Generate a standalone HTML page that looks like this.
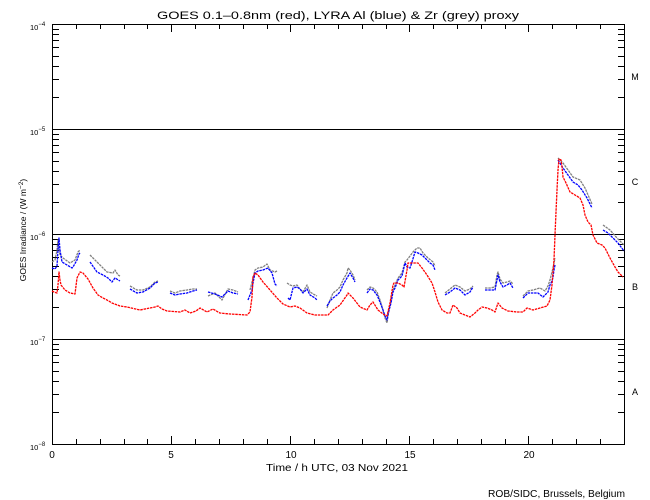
<!DOCTYPE html>
<html><head><meta charset="utf-8"><style>
html,body{margin:0;padding:0;background:#fff;}
svg{display:block;font-family:"Liberation Sans",sans-serif;}
</style></head><body>
<svg width="650" height="500" viewBox="0 0 650 500" xmlns="http://www.w3.org/2000/svg">
<rect width="650" height="500" fill="#fff"/>
<text x="157" y="19" font-size="11" textLength="362" lengthAdjust="spacingAndGlyphs">GOES 0.1–0.8nm (red), LYRA Al (blue) &amp; Zr (grey) proxy</text>

<g stroke="#000" stroke-width="1" fill="none" shape-rendering="crispEdges">
<rect x="52.5" y="24.5" width="572" height="420"/>
<path d="M52 129.5H624M52 234.5H624M52 339.5H624"/>
<path d="M52.5 444V436M76.5 444V439M100.5 444V439M124.5 444V439M147.5 444V439M171.5 444V436M195.5 444V439M219.5 444V439M243.5 444V439M267.5 444V439M290.5 444V436M314.5 444V439M338.5 444V439M362.5 444V439M386.5 444V439M409.5 444V436M433.5 444V439M457.5 444V439M481.5 444V439M505.5 444V439M528.5 444V436M552.5 444V439M576.5 444V439M600.5 444V439"/>
<path d="M52.5 24V32M76.5 24V29M100.5 24V29M124.5 24V29M147.5 24V29M171.5 24V32M195.5 24V29M219.5 24V29M243.5 24V29M267.5 24V29M290.5 24V32M314.5 24V29M338.5 24V29M362.5 24V29M386.5 24V29M409.5 24V32M433.5 24V29M457.5 24V29M481.5 24V29M505.5 24V29M528.5 24V32M552.5 24V29M576.5 24V29M600.5 24V29"/>
<path d="M52 412.5H59M52 394.5H59M52 381.5H59M52 371.5H59M52 362.5H59M52 355.5H59M52 349.5H59M52 344.5H59M52 307.5H59M52 289.5H59M52 276.5H59M52 266.5H59M52 257.5H59M52 250.5H59M52 244.5H59M52 239.5H59M52 202.5H59M52 184.5H59M52 171.5H59M52 161.5H59M52 152.5H59M52 145.5H59M52 139.5H59M52 134.5H59M52 97.5H59M52 79.5H59M52 66.5H59M52 56.5H59M52 47.5H59M52 40.5H59M52 34.5H59M52 29.5H59"/>
<path d="M624 412.5H618M624 394.5H618M624 381.5H618M624 371.5H618M624 362.5H618M624 355.5H618M624 349.5H618M624 344.5H618M624 307.5H618M624 289.5H618M624 276.5H618M624 266.5H618M624 257.5H618M624 250.5H618M624 244.5H618M624 239.5H618M624 202.5H618M624 184.5H618M624 171.5H618M624 161.5H618M624 152.5H618M624 145.5H618M624 139.5H618M624 134.5H618M624 97.5H618M624 79.5H618M624 66.5H618M624 56.5H618M624 47.5H618M624 40.5H618M624 34.5H618M624 29.5H618"/>
</g>

<g font-size="7.5">
<text x="30" y="30">10<tspan font-size="6" dy="-4">−4</tspan></text>
<text x="30" y="135">10<tspan font-size="6" dy="-4">−5</tspan></text>
<text x="30" y="240">10<tspan font-size="6" dy="-4">−6</tspan></text>
<text x="30" y="345">10<tspan font-size="6" dy="-4">−7</tspan></text>
<text x="30" y="450">10<tspan font-size="6" dy="-4">−8</tspan></text>
</g>

<text transform="translate(26,230) rotate(-90)" font-size="8.5" text-anchor="middle">GOES Irradiance / (W m<tspan font-size="6.5" dy="-3">−2</tspan><tspan dy="3">)</tspan></text>

<g font-size="9" text-anchor="middle">
<text x="635" y="80">M</text>
<text x="635" y="185">C</text>
<text x="635" y="290">B</text>
<text x="635" y="395">A</text>
</g>

<g font-size="10" text-anchor="middle">
<text x="52" y="458">0</text>
<text x="171" y="458">5</text>
<text x="291" y="458">10</text>
<text x="410" y="458">15</text>
<text x="529" y="458">20</text>
</g>
<text x="266" y="471" font-size="10" textLength="142" lengthAdjust="spacingAndGlyphs">Time / h UTC, 03 Nov 2021</text>
<text x="488" y="497" font-size="10" textLength="137" lengthAdjust="spacingAndGlyphs">ROB/SIDC, Brussels, Belgium</text>

<g fill="none" stroke="#808080" stroke-width="1.3" stroke-linejoin="round" stroke-dasharray="2.5 0.8">
<polyline points="52,262 55,260 57,250 58,240 60,255 63,258 70,263 75,260 78,252 80,250"/>
<polyline points="90,255 93,258 100,265 107,272 113,273 115,270 118,275 120,276"/>
<polyline points="130,286 137,290 143,290 150,287 155,282 158,281"/>
<polyline points="170,291 175,293 180,291 187,290 193,289 197,289"/>
<polyline points="208,296 215,293 222,300 228,289 233,290 238,292"/>
<polyline points="250,290 253,278 255,270 258,268 263,267 267,264 270,270 275,272 277,271"/>
<polyline points="287,283 290,285 293,286 297,285 300,289 303,292 307,285 310,292 315,295 317,296"/>
<polyline points="327,308 330,300 333,293 337,290 340,287 343,280 347,273 348,268 350,270 353,275 355,280"/>
<polyline points="367,290 370,287 373,288 377,292 380,300 383,310 385,318 387,323 388,316 391,300 393,290 398,278 402,273 405,262 407,260 413,252 417,248 420,248 423,253 428,258 433,262 435,266"/>
<polyline points="445,293 450,289 455,285 460,287 465,291 470,289 473,286"/>
<polyline points="485,288 490,288 495,287 497,275 498,272 500,279 503,283 507,282 510,281 513,284"/>
<polyline points="523,296 528,291 533,290 540,288 545,291 548,286 550,280 553,268 555,258"/>
<polyline points="558,158 563,163 568,170 573,177 580,180 585,188 592,204"/>
<polyline points="603,225 610,230 617,238 624,245"/>
</g>

<g fill="none" stroke="#0000ff" stroke-width="1.3" stroke-linejoin="round" stroke-dasharray="2.5 0.8">
<polyline points="52,268 55,269 57,266 58,250 59,238 60,250 62,262 67,265 72,268 73,267 77,260 79,254 80,253"/>
<polyline points="90,262 97,272 103,275 108,278 112,282 115,278 120,281"/>
<polyline points="130,289 137,293 143,292 150,288 155,283 158,282"/>
<polyline points="170,293 175,295 180,294 187,293 193,291 197,290"/>
<polyline points="208,292 215,294 222,297 228,291 233,293 238,294"/>
<polyline points="248,300 252,290 253,283 255,273 258,271 263,270 268,268 272,273 275,284 277,286"/>
<polyline points="288,298 290,300 293,288 297,287 300,289 303,293 307,289 310,295 315,298 317,300"/>
<polyline points="327,306 330,301 333,298 337,295 340,292 343,285 347,278 350,273 353,278 355,282"/>
<polyline points="367,293 370,289 373,290 377,295 380,302 383,310 385,316 387,320 388,314 391,303 393,292 395,288 398,280 402,276 405,263 407,267 410,268 412,262 415,252 418,253 422,255 427,260 430,263 433,265 435,270"/>
<polyline points="445,295 450,292 455,288 460,290 465,295 470,292 473,287"/>
<polyline points="485,290 490,290 495,290 497,280 498,275 500,282 503,287 507,285 510,283 513,288"/>
<polyline points="523,298 528,293 533,293 538,293 543,297 548,292 550,285 552,281 553,277 554,270 555,265"/>
<polyline points="558,160 563,168 568,175 573,182 578,185 582,190 587,198 592,208"/>
<polyline points="603,230 608,233 613,238 618,243 624,251"/>
</g>

<polyline fill="none" stroke="#ff0000" stroke-width="1.3" stroke-linejoin="round" stroke-dasharray="2.5 0.8" points="52,291 54,292 57,293 58,285 59,272 60,280 61,285 65,290 70,293 75,294 77,278 80,272 83,273 88,279 93,288 98,295 103,298 107,300 112,303 120,306 127,307 140,310 150,308 155,307 158,306 162,309 167,311 180,312 185,310 190,313 196,311 200,308 207,312 213,309 218,312 220,313 230,314 247,315 250,312 252,297 253,277 255,273 258,275 263,282 270,290 277,298 283,304 290,307 295,306 300,308 307,313 315,315 328,315 333,310 340,305 347,295 348,293 353,298 360,307 367,310 370,305 373,302 378,310 383,314 387,316 390,303 393,285 394,283 398,283 402,285 404,287 407,270 408,263 418,263 422,268 427,275 432,283 435,292 438,302 442,310 447,313 450,313 453,305 457,308 460,313 465,315 470,317 475,313 478,310 482,307 487,308 492,310 495,312 498,303 502,308 508,311 517,312 523,312 527,308 533,310 540,308 547,306 550,300 552,285 554,260 555,235 556,212 557,190 558,170 559,159 561,160 562,167 563,177 566,183 570,192 575,195 580,198 583,205 585,215 588,222 591,225 593,235 597,243 602,245 605,248 610,258 615,267 618,272 623,277"/>
</svg>
</body></html>
